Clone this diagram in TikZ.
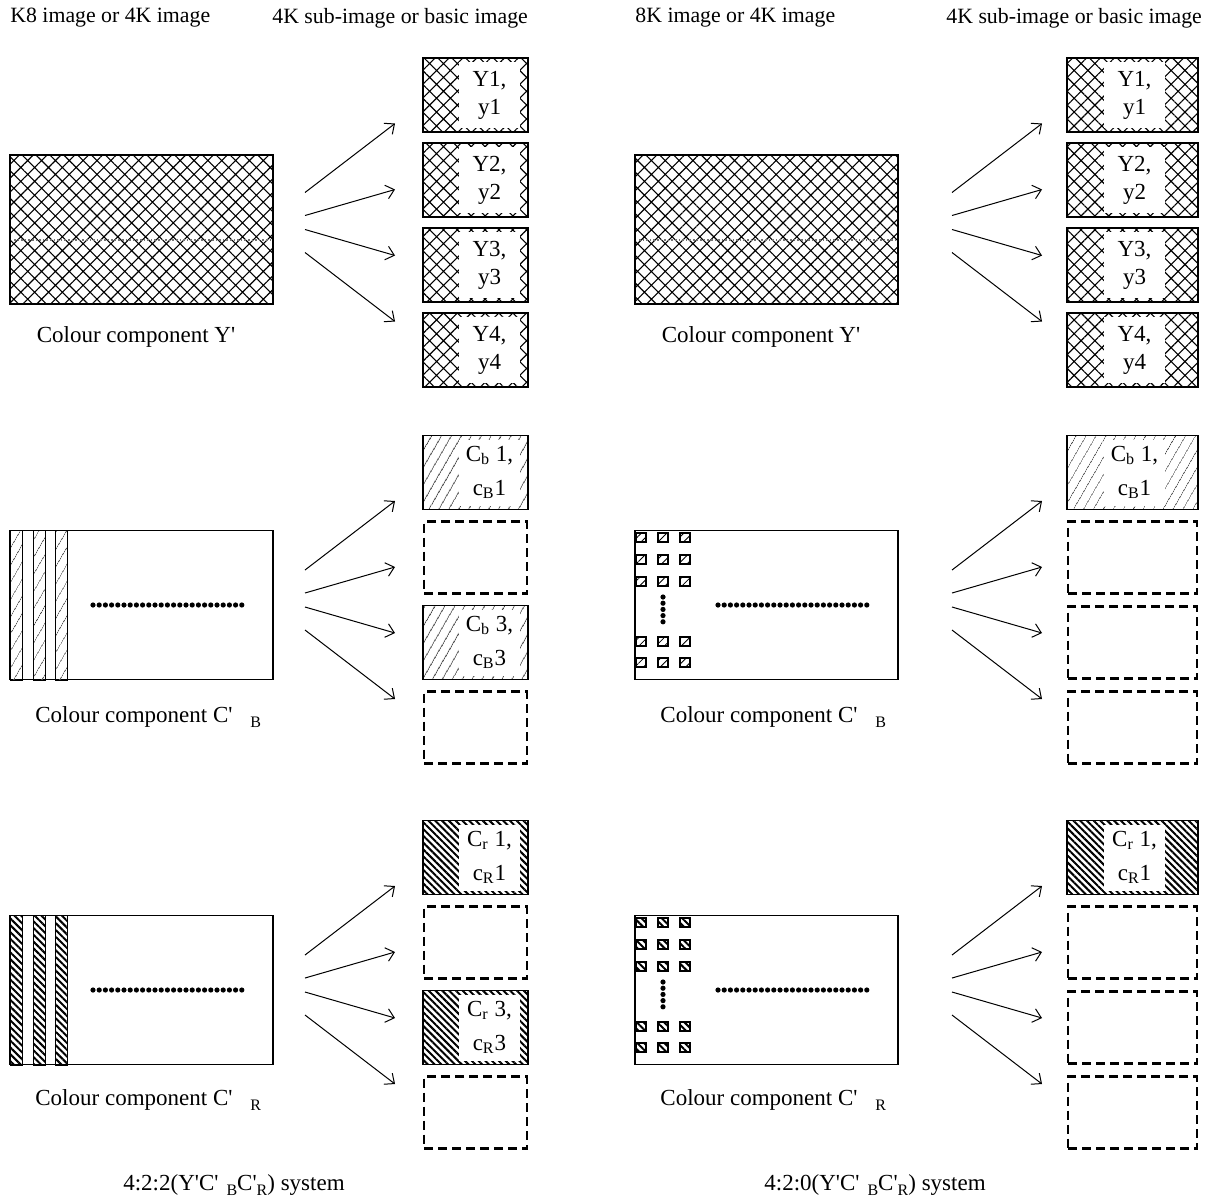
\documentclass[tikz,border=0pt]{standalone}
\usepackage{fontspec}
\setmainfont{Liberation Serif}[Ligatures=TeXOff]
\usepackage{tikz}
\usetikzlibrary{arrows.meta,patterns.meta}

\newcommand{\lowsub}[1]{\raisebox{-2.5pt}{\fontsize{8}{9}\selectfont #1}}

\begin{document}
\begin{tikzpicture}[
  x=0.5pt,y=-0.5pt,
  font=\fontsize{11.5}{14}\selectfont,
  bigimg/.style={draw,line width=0.7pt,minimum width=131.5pt,minimum height=74.5pt,inner sep=0pt},
  subimg/.style={draw,line width=0.7pt,minimum height=37pt,inner sep=0pt},
  emptyimg/.style={draw,line width=1.4pt,dash pattern=on 4.5pt off 2.5pt,minimum height=36pt,inner sep=0pt},
  lumafill/.style={pattern={Hatch[angle=45,distance=4.9pt,line width=0.55pt]}},
  bluefill/.style={pattern={Lines[angle=60,distance=4pt,line width=0.35pt]},pattern color=black!75},
  dotfill/.style={pattern={Lines[angle=45,distance=3pt,line width=0.4pt]}},
  redfill/.style={pattern={Lines[angle=-45,distance=2.4pt,line width=1pt]}},
  panel/.style={fill=white,inner sep=0pt,minimum width=30.5pt,minimum height=33pt,align=center},
  head/.style={anchor=west,inner sep=0pt,font=\fontsize{10.9}{13}\selectfont},
  dotrow/.style={line width=2.6pt,line cap=round,dash pattern=on 0pt off 3.1pt},
  arr/.style={-{Straight Barb[length=4pt,width=7pt]},line width=0.5pt}
]
\useasboundingbox (0,0) rectangle (1213,1200);

% column headers
\node[head] (hl1) at (10,18) {K8 image or 4K image};
\node[head] (hl2) at (272,18) {4K sub-image or basic image};
\node[head] (hr1) at (635,18) {8K image or 4K image};
\node[head] (hr2) at (946,18) {4K sub-image or basic image};

\foreach \side/\ox/\bx/\bc/\bw/\pc in {L/0/0/475.5/52.5pt/489.5,R/625/647/1132.5/65.5pt/1134.5} {
  % full images
  \node[bigimg,lumafill] (ymain\side) at (141.5+\ox,229.5) {};
  \draw[black!55,line width=0.8pt,densely dotted] (14+\ox,240) -- (270+\ox,240);
  \node[bigimg] (cbmain\side) at (141.5+\ox,605) {};
  \node[bigimg] (crmain\side) at (141.5+\ox,990) {};
  \draw[dotrow] (93+\ox,605) -- (242+\ox,605);
  \draw[dotrow] (93+\ox,990) -- (242+\ox,990);

  % labels
  \node (ylab\side) at (136+\ox,337) {Colour component Y'};
  \node[head,font=\fontsize{11.5}{14}\selectfont] (cblab\side) at (35+\ox,717) {Colour component C'\hspace{9pt}\lowsub{B}};
  \node[head,font=\fontsize{11.5}{14}\selectfont] (crlab\side) at (35+\ox,1100) {Colour component C'\hspace{9pt}\lowsub{R}};

  % sub-images
  \foreach \i/\yc in {1/95,2/180,3/265,4/350} {
    \node[subimg,lumafill,minimum width=\bw] (y\i\side) at (\bc,\yc) {};
    \node[panel] (yt\i\side) at (\pc,\yc) {Y\i,\\y\i};
  }
  \node[subimg,bluefill,minimum width=\bw] (cb1\side) at (\bc,472.5) {};
  \node[panel] (cbt1\side) at (\pc,472.5) {C\textsubscript{b} 1,\\[3pt]c\textsubscript{B}1};
  \node[emptyimg,minimum width=\bw-1pt] (cb2\side) at (\bc,557.5) {};
  \node[emptyimg,minimum width=\bw-1pt] (cb4\side) at (\bc,727.5) {};
  \node[subimg,redfill,minimum width=\bw] (cr1\side) at (\bc,857.5) {};
  \node[panel] (crt1\side) at (\pc,857.5) {C\textsubscript{r} 1,\\[3pt]c\textsubscript{R}1};
  \node[emptyimg,minimum width=\bw-1pt] (cr2\side) at (\bc,942.5) {};
  \node[emptyimg,minimum width=\bw-1pt] (cr4\side) at (\bc,1112.5) {};

  % arrow fans
  \foreach \g/\gc in {y/222.5,cb/600,cr/985} {
    \foreach \i/\so/\eo in {1/-30/-99,2/-7/-33,3/7/33,4/30/99} {
      \coordinate (s\g\i\side) at (305+\bx,\gc+\so);
      \coordinate (t\g\i\side) at (395+\bx,\gc+\eo);
      \draw[arr] (s\g\i\side) -- (t\g\i\side);
    }
  }
}

% 4:2:2 third sub-images
\node[subimg,bluefill,minimum width=52.5pt] (cb3L) at (475.5,642.5) {};
\node[panel] (cbt3L) at (489.5,642.5) {C\textsubscript{b} 3,\\[3pt]c\textsubscript{B}3};
\node[subimg,redfill,minimum width=52.5pt] (cr3L) at (475.5,1027.5) {};
\node[panel] (crt3L) at (489.5,1027.5) {C\textsubscript{r} 3,\\[3pt]c\textsubscript{R}3};
% 4:2:0 empty third sub-images
\node[emptyimg,minimum width=64.5pt] (cb3R) at (1132.5,642.5) {};
\node[emptyimg,minimum width=64.5pt] (cr3R) at (1132.5,1027.5) {};

% 4:2:2 chroma columns
\foreach \sx in {10,33,55} {
  \draw[line width=0.5pt,bluefill] (\sx,530) rectangle ++(12,150);
  \draw[line width=0.5pt,redfill] (\sx,915) rectangle ++(12,150);
}
% 4:2:0 chroma samples
\foreach \sx in {636,658,680} {
  \foreach \sy in {533,555,577,637,658} {
    \draw[line width=0.6pt,dotfill] (\sx,\sy) rectangle ++(10,9);
    \draw[line width=0.6pt,redfill] (\sx,\sy+385) rectangle ++(10,9);
  }
}
\draw[dotrow] (663,597) -- (663,622);
\draw[dotrow] (663,982) -- (663,1007);

% system captions
\node (sysL) at (234,1185) {4:2:2(Y'C'\hspace{4pt}\lowsub{B}C'\lowsub{R}) system};
\node (sysR) at (875,1185) {4:2:0(Y'C'\hspace{4pt}\lowsub{B}C'\lowsub{R}) system};
\end{tikzpicture}
\end{document}
